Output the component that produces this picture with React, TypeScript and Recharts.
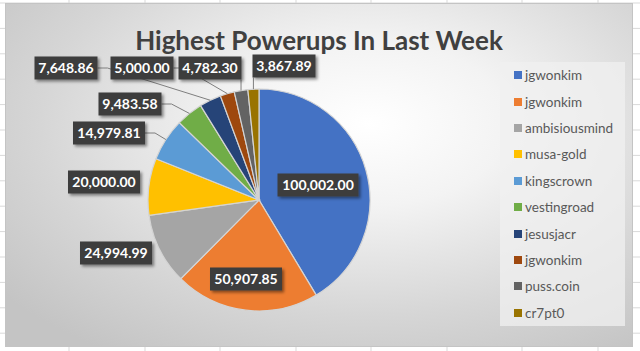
import { Cell, Legend, Pie, PieChart } from "recharts";

const NAMES = [
  "jgwonkim",
  "jgwonkim",
  "ambisiousmind",
  "musa-gold",
  "kingscrown",
  "vestingroad",
  "jesusjacr",
  "jgwonkim",
  "puss.coin",
  "cr7pt0",
];
const VALUES = [
  100002.0, 50907.85, 24994.99, 20000.0, 14979.81, 9483.58, 7648.86, 5000.0,
  4782.3, 3867.89,
];
const COLORS = [
  "#4472C4",
  "#ED7D31",
  "#A5A5A5",
  "#FFC000",
  "#5B9BD5",
  "#70AD47",
  "#264478",
  "#9E480E",
  "#636363",
  "#997300",
];

// label box centres, relative to the pie centre (Excel "best fit" placement)
const LABEL_OFFSETS: [number, number][] = [
  [59, -15],
  [-13, 79],
  [-143, 53],
  [-155, -18],
  [-150, -67],
  [-129, -96],
  [-193, -132],
  [-117, -132],
  [-49, -132],
  [25, -134],
];

const W = 640;
const H = 351;
const FONT = "Lato, 'Open Sans', sans-serif";
const RAD = Math.PI / 180;

const fmt = (v: number) =>
  v.toLocaleString("en-US", { minimumFractionDigits: 2, maximumFractionDigits: 2 });

function DataLabel(props: any) {
  const { cx, cy, midAngle, outerRadius, index, value } = props;
  const [ox, oy] = LABEL_OFFSETS[index] ?? [0, 0];
  const text = fmt(value);
  const bw = text.length * 9 - 9;
  const bh = 23;
  const lx = cx + ox;
  const ly = cy + oy;
  const left = lx - bw / 2;
  const right = lx + bw / 2;
  const px = cx + Math.cos(-midAngle * RAD) * outerRadius;
  const py = cy + Math.sin(-midAngle * RAD) * outerRadius;

  let line: string | null = null;
  if (index > 1) {
    if (px >= left && px <= right) {
      line = `M${px},${ly + bh / 2} L${px},${py}`;
    } else {
      const sx = px > right ? right : left;
      const dist = Math.abs(px - sx);
      if (dist > 12) {
        const stub = px > right ? sx + 10 : sx - 10;
        line = `M${sx},${ly} L${stub},${ly} L${px},${py}`;
      }
    }
  }

  return (
    <g>
      {line && <path d={line} fill="none" stroke="#7f7f7f" strokeWidth={1} />}
      <rect
        x={left}
        y={ly - bh / 2}
        width={bw}
        height={bh}
        fill="#3d3d3d"
        filter="url(#lblShadow)"
      />
      <text
        x={lx}
        y={ly}
        dy="0.36em"
        textAnchor="middle"
        fill="#ffffff"
        fontFamily={FONT}
        fontWeight={700}
        fontSize={14}
      >
        {text}
      </text>
    </g>
  );
}

// legend keeps the series order (Excel does not sort it)
function LegendBox() {
  return (
    <div
      style={{
        width: 125,
        height: 264,
        background: "rgba(240,240,240,0.75)",
        boxSizing: "border-box",
      }}
    >
      {NAMES.map((name, i) => (
        <div
          key={i}
          style={{
            display: "flex",
            alignItems: "center",
            height: 26.4,
            paddingLeft: 14,
            fontFamily: FONT,
            fontSize: 13.5,
            color: "#595959",
          }}
        >
          <span
            style={{
              width: 8,
              height: 8,
              background: COLORS[i],
              marginRight: 3,
              display: "inline-block",
            }}
          />
          {name}
        </div>
      ))}
    </div>
  );
}

export default function App() {
  const data = NAMES.map((name, i) => ({ name, value: VALUES[i] }));
  const colX = [69, 145, 220, 296, 371, 447, 522, 598];
  const rowY = Array.from({ length: 14 }, (_, k) => 3 + 25.4 * k);

  return (
    <div
      style={{
        position: "fixed",
        left: 0,
        top: 0,
        width: W,
        height: H,
        background: "#ffffff",
        overflow: "hidden",
      }}
    >
      {/* spreadsheet gridlines around the chart */}
      <svg width={W} height={H} style={{ position: "absolute", left: 0, top: 0 }}>
        {colX.map((x) => (
          <line key={x} x1={x} x2={x} y1={0} y2={H} stroke="#d9d9d9" />
        ))}
        {rowY.map((y) => (
          <line key={y} x1={0} x2={W} y1={y} y2={y} stroke="#d9d9d9" />
        ))}
      </svg>
      {/* chart area */}
      <div
        style={{
          position: "absolute",
          left: 5,
          top: 3,
          width: 628,
          height: 344,
          boxSizing: "border-box",
          border: "1px solid #c4c4c4",
          background:
            "radial-gradient(ellipse 75% 80% at 58% 35%, #ffffff 0%, #f3f3f3 30%, #d6d6d6 70%, #c4c4c4 100%)",
        }}
      />
      <div style={{ position: "absolute", left: 0, top: 0 }}>
        <PieChart width={W} height={H} margin={{ top: 0, right: 0, bottom: 0, left: 0 }}>
          <defs>
            <filter id="lblShadow" x="-20%" y="-30%" width="150%" height="180%">
              <feDropShadow dx="2" dy="2" stdDeviation="1.5" floodColor="#000" floodOpacity="0.45" />
            </filter>
          </defs>
          <text
            x={319}
            y={41}
            textAnchor="middle"
            dy="0.35em"
            fill="#404040"
            fontFamily={FONT}
            fontWeight={700}
            fontSize={26}
          >
            Highest Powerups In Last Week
          </text>
          <Pie
            data={data}
            dataKey="value"
            nameKey="name"
            cx={259}
            cy={200}
            outerRadius={111}
            startAngle={90}
            endAngle={-270}
            stroke="#d4d4d4"
            strokeWidth={1.2}
            label={DataLabel}
            labelLine={false}
            isAnimationActive={false}
          >
            {data.map((_, i) => (
              <Cell key={i} fill={COLORS[i]} />
            ))}
          </Pie>
          <Legend
            layout="vertical"
            align="right"
            verticalAlign="top"
            content={LegendBox}
            wrapperStyle={{ left: 500, top: 62, width: 125, height: 264 }}
          />
        </PieChart>
      </div>
    </div>
  );
}
